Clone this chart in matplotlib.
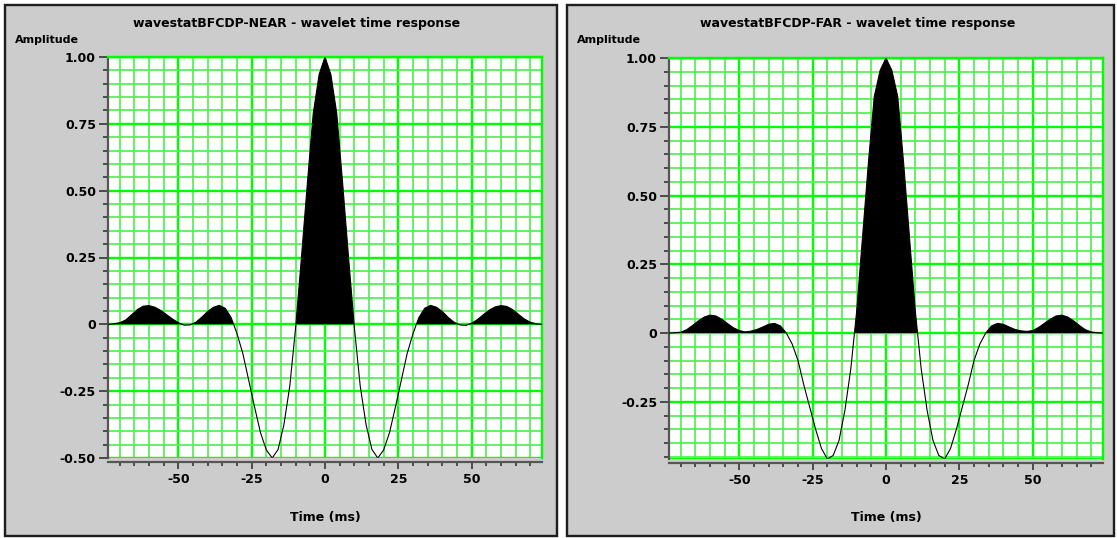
import numpy as np
import matplotlib
matplotlib.use("Agg")
import matplotlib.pyplot as plt
from matplotlib.patches import Rectangle
from matplotlib.ticker import MultipleLocator, FuncFormatter

plt.rcParams['font.family'] = ['DejaVu Sans']
plt.rcParams['font.weight'] = 'bold'

# Wavelet sample times (ms), 2 ms sampling
time_ms = np.arange(-74, 76, 2)

near_amp = [
    0.000, 0.002, 0.006, 0.016, 0.035, 0.055, 0.068, 0.070, 0.064, 0.052,
    0.036, 0.020, 0.006, -0.003, -0.002, 0.008, 0.027, 0.048, 0.064, 0.071,
    0.060, 0.025, -0.035, -0.110, -0.210, -0.310, -0.405, -0.470, -0.500, -0.468,
    -0.375, -0.230, -0.010, 0.255, 0.530, 0.790, 0.935, 1.000,
    0.935, 0.790, 0.530, 0.255, -0.010, -0.230, -0.375, -0.468, -0.500, -0.470,
    -0.405, -0.310, -0.210, -0.110, -0.035, 0.025, 0.060, 0.071, 0.064, 0.048,
    0.026, 0.008, -0.002, -0.004, 0.004, 0.018, 0.036, 0.053, 0.065, 0.070,
    0.067, 0.055, 0.037, 0.020, 0.008, 0.002, 0.000,
]

far_amp = [
    0.000, 0.001, 0.003, 0.012, 0.027, 0.044, 0.058, 0.065, 0.062, 0.050,
    0.034, 0.019, 0.009, 0.004, 0.007, 0.013, 0.022, 0.032, 0.035, 0.026,
    0.000, -0.040, -0.100, -0.190, -0.270, -0.350, -0.420, -0.458, -0.445, -0.390,
    -0.280, -0.130, 0.080, 0.350, 0.620, 0.860, 0.955, 1.000,
    0.955, 0.860, 0.620, 0.350, 0.080, -0.130, -0.280, -0.390, -0.445, -0.458,
    -0.420, -0.350, -0.270, -0.190, -0.100, -0.040, 0.000, 0.026, 0.035, 0.032,
    0.022, 0.013, 0.008, 0.006, 0.009, 0.020, 0.035, 0.050, 0.062, 0.065,
    0.058, 0.044, 0.027, 0.012, 0.004, 0.001, 0.000,
]

panels = [
    dict(title="wavestatBFCDP-NEAR - wavelet time response", amp=near_amp,
         frame=(5, 5, 557, 536), axes=(108, 57, 542, 458),
         title_x=297, ylab_x=15, ymin=-0.5),
    dict(title="wavestatBFCDP-FAR - wavelet time response", amp=far_amp,
         frame=(567, 5, 1114, 536), axes=(669, 58, 1103, 459),
         title_x=858, ylab_x=577, ymin=min(far_amp)),
]

W, H = 1117, 538
fig = plt.figure(figsize=(W / 100, H / 100), dpi=100, facecolor='white')


def fx(px):
    return px / W


def fy(py):
    return 1 - py / H


PX = 72 / 100  # points per pixel
GREEN = '#00ff00'
GREEN_MINOR = '#50f050'
DARK = '#303030'


def yfmt(v, _):
    if abs(v) < 1e-9:
        return '0'
    return f'{v:.2f}'


for p in panels:
    x0, y0, x1, y1 = p['frame']
    fig.add_artist(Rectangle((fx(x0), fy(y1)), fx(x1) - fx(x0), fy(y0) - fy(y1),
                             transform=fig.transFigure, facecolor='#cccccc',
                             edgecolor='#1e1e1e', linewidth=2.4 * PX, zorder=0))

    ax0, ay0, ax1, ay1 = p['axes']
    ax = fig.add_axes([fx(ax0), fy(ay1), fx(ax1) - fx(ax0), fy(ay0) - fy(ay1)])
    ax.set_facecolor('white')

    amp = np.array(p['amp'])
    ax.fill_between(time_ms, amp, 0, where=amp > 0, interpolate=True,
                    color='black', linewidth=0, zorder=2)
    ax.plot(time_ms, amp, color='black', linewidth=1.1 * PX, zorder=3)

    ax.set_xlim(-74, 74)
    ax.set_ylim(p['ymin'], 1.0)

    ax.xaxis.set_major_locator(MultipleLocator(25))
    ax.xaxis.set_minor_locator(MultipleLocator(5))
    ax.yaxis.set_major_locator(MultipleLocator(0.25))
    ax.yaxis.set_minor_locator(MultipleLocator(0.05))
    ax.yaxis.set_major_formatter(FuncFormatter(yfmt))
    ax.xaxis.set_major_formatter(FuncFormatter(lambda v, _: f'{int(round(v))}'))

    ax.set_axisbelow(True)
    ax.grid(which='major', color=GREEN, linewidth=2.4 * PX)
    ax.grid(which='minor', color=GREEN_MINOR, linewidth=1.7 * PX)
    ax.axhline(p['ymin'], color=GREEN, linewidth=3 * PX, zorder=1)

    for s in ('top', 'right'):
        ax.spines[s].set_color(GREEN)
        ax.spines[s].set_linewidth(2.4 * PX)
    ax.spines['left'].set_color('#555555')
    ax.spines['left'].set_linewidth(2.2 * PX)
    ax.spines['bottom'].set_color('#555555')
    ax.spines['bottom'].set_linewidth(2.2 * PX)
    ax.spines['bottom'].set_position(('outward', 4 * PX))

    ax.tick_params(axis='y', which='major', length=9 * PX, width=1.6 * PX,
                   color=DARK, pad=3 * PX, labelsize=9)
    ax.tick_params(axis='y', which='minor', length=5.5 * PX, width=1.6 * PX,
                   color=DARK)
    ax.tick_params(axis='x', which='major', length=7 * PX, width=1.6 * PX,
                   color=DARK, pad=4 * PX, labelsize=9)
    ax.tick_params(axis='x', which='minor', length=4 * PX, width=1.6 * PX,
                   color=DARK)
    for lab in ax.get_xticklabels() + ax.get_yticklabels():
        lab.set_fontweight('bold')

    fig.text(fx(p['title_x']), fy(23), p['title'], ha='center', va='center',
             fontsize=9, fontweight='bold', color='black')
    fig.text(fx(p['ylab_x']), fy(40), 'Amplitude', ha='left', va='center',
             fontsize=8, fontweight='bold', color='black')
    fig.text(fx((ax0 + ax1) / 2), fy(518), 'Time (ms)', ha='center', va='center',
             fontsize=9, fontweight='bold', color='black')

fig.savefig('out.png', dpi=100, facecolor='white')
